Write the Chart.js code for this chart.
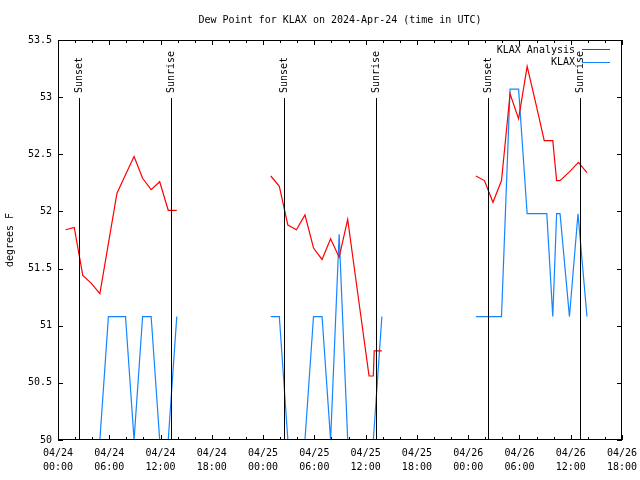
<!DOCTYPE html>
<html>
<head>
<meta charset="utf-8">
<title>Dew Point for KLAX</title>
<script src="https://cdn.jsdelivr.net/npm/chart.js@4.4.1/dist/chart.umd.min.js"></script>
<style>
  html, body { margin: 0; padding: 0; background: #fff; }
</style>
</head>
<body>
<canvas id="dewChart" width="640" height="480"></canvas>
<script>
// hours since 2024-04-24 00:00 UTC, null = no data
const analysisHours = [
  0.9, 1.9, 2.9, 3.9, 4.9, 5.9, 6.9, 7.9, 8.9, 9.9, 10.9, 11.9, 12.9, 13.9,
  19,
  24.9, 25.9, 26.9, 27.9, 28.9, 29.9, 30.9, 31.9, 32.9, 33.9, 34.9, 36.4, 36.9, 37.0, 37.9,
  43,
  48.9, 49.9, 50.9, 51.9, 52.9, 53.9, 54.9, 55.9, 56.9, 57.9, 58.35, 58.75, 59.9, 60.9, 61.9
];
const analysisValues = [
  51.84, 51.86, 51.44, 51.37, 51.28, 51.72, 52.16, 52.32, 52.48, 52.29, 52.19, 52.26, 52.01, 52.01,
  null,
  52.31, 52.22, 51.88, 51.84, 51.97, 51.68, 51.58, 51.76, 51.60, 51.93, 51.38, 50.56, 50.56, 50.78, 50.78,
  null,
  52.31, 52.27, 52.08, 52.27, 53.03, 52.81, 53.27, 52.95, 52.62, 52.62, 52.27, 52.27, 52.35, 52.43, 52.34
];
const obsHours = [
  0.9, 1.9, 2.9, 3.9, 4.9, 5.9, 6.9, 7.9, 8.9, 9.9, 10.9, 11.9, 12.9, 13.9,
  19,
  24.9, 25.9, 26.9, 27.9, 28.9, 29.9, 30.9, 31.9, 32.9, 33.9, 34.9, 35.9, 36.9, 37.9,
  43,
  48.9, 49.9, 50.9, 51.9, 52.9, 53.9, 54.9, 55.9, 57.2, 57.9, 58.35, 58.75, 59.85, 60.85, 61.9
];
const obsValues = [
  50, 50, 50, 50, 50, 51.08, 51.08, 51.08, 50, 51.08, 51.08, 50, 50, 51.08,
  null,
  51.08, 51.08, 50, 50, 50, 51.08, 51.08, 50, 51.8, 50, 50, 50, 50, 51.08,
  null,
  51.08, 51.08, 51.08, 51.08, 53.07, 53.07, 51.98, 51.98, 51.98, 51.08, 51.98, 51.98, 51.08, 51.98, 51.08
];
const sunsetHours = [2.49, 26.48, 50.36];
const sunriseHours = [13.26, 37.25, 61.12];
const dayLabels = ['04/24', '04/25', '04/26'];
const timeLabels = ['00:00', '06:00', '12:00', '18:00'];

const FONT = 'DejaVu Sans Mono';
const RED = '#ff0000';
const BLUE = '#1485ff';

function toPoints(hours, values) {
  return hours.map((h, i) => ({ x: h, y: values[i] }));
}

// box, inward tics, sunrise/sunset markers and legend
const decorPlugin = {
  id: 'decor',
  afterDatasetsDraw(chart) {
    const { ctx, chartArea: a, scales: { x, y } } = chart;
    ctx.save();
    ctx.strokeStyle = '#000';
    ctx.lineWidth = 1;

    // sunset / sunrise lines
    ctx.fillStyle = '#000';
    ctx.font = '10px "' + FONT + '"';
    const marks = sunsetHours.map(h => [h, 'Sunset']).concat(sunriseHours.map(h => [h, 'Sunrise']));
    marks.forEach(([h, label]) => {
      const px = Math.round(x.getPixelForValue(h)) + 0.5;
      ctx.beginPath();
      ctx.moveTo(px, 98);
      ctx.lineTo(px, a.bottom);
      ctx.stroke();
      ctx.save();
      ctx.translate(px, 93);
      ctx.rotate(-Math.PI / 2);
      ctx.textAlign = 'left';
      ctx.textBaseline = 'middle';
      ctx.fillText(label, 0, 0);
      ctx.restore();
    });

    // tics
    ctx.beginPath();
    for (let h = x.min; h <= x.max; h += 2) {
      const px = Math.round(x.getPixelForValue(h)) + 0.5;
      const len = h % 6 === 0 ? 5 : 3;
      ctx.moveTo(px, a.bottom); ctx.lineTo(px, a.bottom - len);
      ctx.moveTo(px, a.top); ctx.lineTo(px, a.top + len);
    }
    for (let v = y.min; v <= y.max + 1e-9; v += 0.5) {
      const py = Math.round(y.getPixelForValue(v)) + 0.5;
      ctx.moveTo(a.left, py); ctx.lineTo(a.left + 5, py);
      ctx.moveTo(a.right, py); ctx.lineTo(a.right - 5, py);
    }
    ctx.stroke();
    ctx.strokeRect(a.left + 0.5, a.top + 0.5, a.right - a.left - 1, a.bottom - a.top - 1);

    // legend
    const items = [['KLAX Analysis', RED], ['KLAX', BLUE]];
    ctx.textAlign = 'right';
    ctx.textBaseline = 'middle';
    items.forEach(([label, color], i) => {
      const ly = 50 + i * 12.5;
      ctx.fillStyle = '#000';
      ctx.fillText(label, 575, ly);
      ctx.strokeStyle = color;
      ctx.beginPath();
      ctx.moveTo(582, Math.round(ly) - 0.5);
      ctx.lineTo(610, Math.round(ly) - 0.5);
      ctx.stroke();
    });
    ctx.restore();
  }
};

const ctx = document.getElementById('dewChart').getContext('2d');
const dewChart = new Chart(ctx, {
  type: 'line',
  data: {
    datasets: [
      {
        label: 'KLAX Analysis',
        data: toPoints(analysisHours, analysisValues),
        borderColor: RED,
        borderWidth: 1.2,
        pointRadius: 0,
        tension: 0,
        spanGaps: false,
        clip: 0
      },
      {
        label: 'KLAX',
        data: toPoints(obsHours, obsValues),
        borderColor: BLUE,
        borderWidth: 1.2,
        pointRadius: 0,
        tension: 0,
        spanGaps: false,
        clip: 0
      }
    ]
  },
  options: {
    responsive: false,
    animation: false,
    devicePixelRatio: 1,
    layout: { padding: { top: 0, right: 18, bottom: 0, left: 0 } },
    plugins: {
      legend: { display: false },
      tooltip: { enabled: false },
      title: {
        display: true,
        fullSize: false,
        text: 'Dew Point for KLAX on 2024-Apr-24 (time in UTC)',
        color: '#000',
        font: { family: FONT, size: 10, weight: 'normal', lineHeight: 1.2 },
        padding: { top: 14, bottom: 14 }
      }
    },
    scales: {
      x: {
        type: 'linear',
        min: 0,
        max: 66,
        grid: { display: false, drawTicks: false },
        border: { display: false },
        afterFit(scale) {
          scale.height = 40;
          scale.paddingLeft = 0;
          scale.paddingRight = 0;
        },
        ticks: {
          stepSize: 6,
          autoSkip: false,
          maxRotation: 0,
          padding: 6,
          color: '#000',
          font: { family: FONT, size: 10, lineHeight: 1.4 },
          callback: v => [dayLabels[Math.floor(v / 24)], timeLabels[(v % 24) / 6]]
        }
      },
      y: {
        min: 50,
        max: 53.5,
        grid: { display: false, drawTicks: false },
        border: { display: false },
        afterFit(scale) { scale.width = 58; },
        title: {
          display: true,
          text: 'degrees F',
          color: '#000',
          font: { family: FONT, size: 10, lineHeight: 1.2 },
          padding: { top: 4, bottom: 0 }
        },
        ticks: {
          stepSize: 0.5,
          padding: 6,
          color: '#000',
          font: { family: FONT, size: 10 },
          callback: v => String(+v.toFixed(1))
        }
      }
    }
  },
  plugins: [decorPlugin]
});
</script>
</body>
</html>
